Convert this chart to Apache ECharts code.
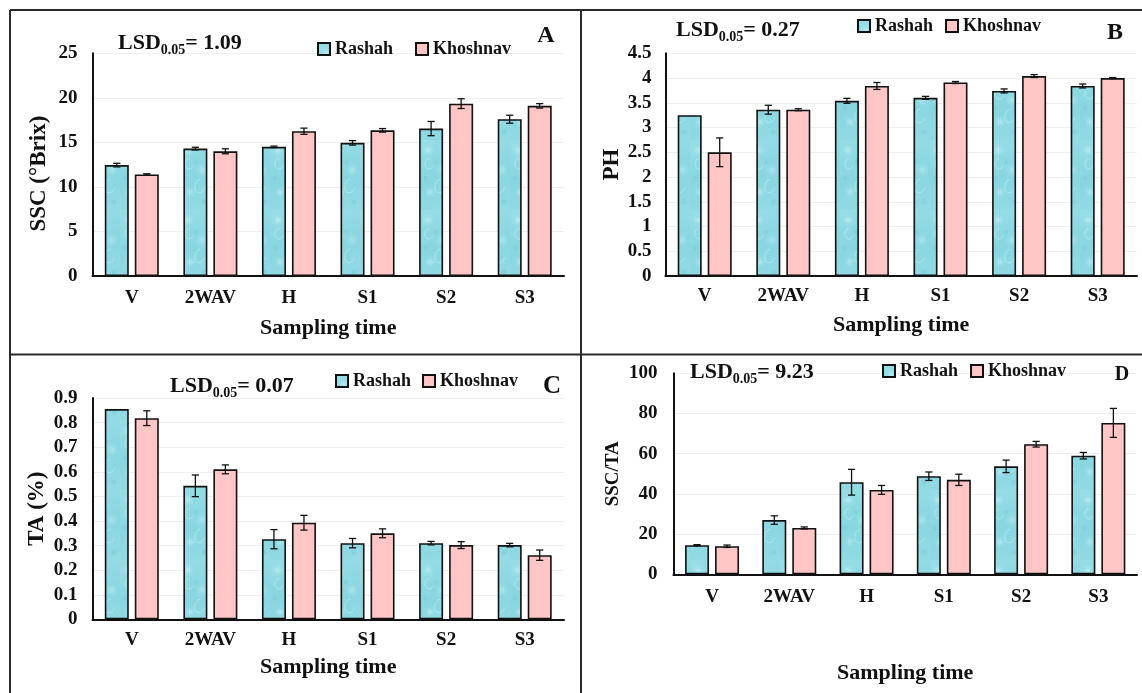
<!DOCTYPE html>
<html>
<head>
<meta charset="utf-8">
<title>Rashah vs Khoshnav</title>
<script src="https://cdn.jsdelivr.net/npm/echarts@6/dist/echarts.min.js"></script>
<style>
    body{margin:0;background:#fff;}
    #chart{width:1142px;height:693px;}
</style>
</head>
<body>
<div id="chart"></div>
<script type="text/javascript">
    // sampling times
    var categories = ['V', '2WAV', 'H', 'S1', 'S2', 'S3'];

    // A - SSC (°Brix)
    var sscRashah = [12.45, 14.3, 14.5, 14.95, 16.55, 17.6];
    var sscRashahErr = [0.2, 0.15, 0.08, 0.25, 0.8, 0.45];
    var sscKhosh = [11.4, 14.0, 16.25, 16.35, 19.35, 19.1];
    var sscKhoshErr = [0.08, 0.28, 0.35, 0.2, 0.55, 0.25];

    // B - PH
    var phRashah = [3.25, 3.36, 3.54, 3.60, 3.74, 3.84];
    var phRashahErr = [0, 0.09, 0.05, 0.03, 0.04, 0.04];
    var phKhosh = [2.50, 3.36, 3.84, 3.91, 4.04, 4.00];
    var phKhoshErr = [0.29, 0.02, 0.07, 0.02, 0.03, 0.01];

    // C - TA (%)
    var taRashah = [0.855, 0.543, 0.326, 0.310, 0.310, 0.302];
    var taRashahErr = [0, 0.044, 0.039, 0.019, 0.007, 0.007];
    var taKhosh = [0.818, 0.610, 0.393, 0.350, 0.302, 0.261];
    var taKhoshErr = [0.03, 0.018, 0.03, 0.018, 0.014, 0.021];

    // D - SSC/TA
    var ratioRashah = [14.5, 27.0, 45.8, 48.8, 53.7, 59.0];
    var ratioRashahErr = [0.3, 2.1, 6.4, 2.1, 3.1, 1.6];
    var ratioKhosh = [14.0, 23.1, 42.0, 47.0, 64.7, 75.3];
    var ratioKhoshErr = [0.6, 0.5, 2.2, 2.8, 1.4, 7.2];

    var lsdValues = ['1.09', '0.27', '0.07', '9.23'];
    var panelLetters = ['A', 'B', 'C', 'D'];
    var yTitles = ['SSC (°Brix)', 'PH', 'TA (%)', 'SSC/TA'];
    var yMax = [25, 4.5, 0.9, 100];
    var yStep = [5, 0.5, 0.1, 20];

    var FONT = '"Times New Roman", "Liberation Serif", serif';

    // soft water-drop texture for the Rashah bars
    function dropPattern() {
        var c = document.createElement('canvas');
        c.width = 30; c.height = 70;
        var g = c.getContext('2d');
        var grd = g.createLinearGradient(0, 0, 30, 70);
        grd.addColorStop(0, '#98dde6');
        grd.addColorStop(0.5, '#88d6e1');
        grd.addColorStop(1, '#94dbe5');
        g.fillStyle = grd;
        g.fillRect(0, 0, 30, 70);
        function spot(x, y, r, col) {
            var rg = g.createRadialGradient(x, y, 0, x, y, r);
            rg.addColorStop(0, col);
            rg.addColorStop(1, 'rgba(140,215,225,0)');
            g.fillStyle = rg;
            g.fillRect(x - r, y - r, r * 2, r * 2);
        }
        spot(8, 10, 8, 'rgba(200,242,246,0.7)');
        spot(22, 30, 9, 'rgba(195,240,245,0.6)');
        spot(10, 52, 7, 'rgba(205,244,248,0.6)');
        spot(24, 62, 5, 'rgba(90,185,200,0.35)');
        spot(16, 22, 4, 'rgba(90,185,200,0.35)');
        spot(5, 38, 4, 'rgba(90,185,200,0.3)');
        g.lineWidth = 0.8;
        g.strokeStyle = 'rgba(235,252,253,0.45)';
        g.beginPath(); g.ellipse(20, 46, 5, 7, 0.3, 0, Math.PI * 1.4); g.stroke();
        g.beginPath(); g.ellipse(9, 24, 4, 5, -0.2, 0.5, Math.PI * 1.6); g.stroke();
        return c;
    }
    var cyanFill = {image: dropPattern(), repeat: 'repeat'};
    var pinkFill = '#ffc6c5';

    var chart = echarts.init(document.getElementById('chart'));

    var grids = [
        {left: 92.5, top: 53.3, width: 471.5, height: 222.7},
        {left: 665.4, top: 53.3, width: 471.6, height: 222.7},
        {left: 92.5, top: 398, width: 471.5, height: 221.4},
        {left: 673.4, top: 373.2, width: 463.6, height: 201.2}
    ];
    var xLabelMargin = [13, 11, 11, 13];
    var xNameGap = [41, 38, 37, 88];
    var yLabelMargin = [15, 14, 15, 16];
    var yNameGap = [42, 41, 44, 51];
    var yNameSize = [23, 23, 23, 19];

    var panels = [
        [sscRashah, sscRashahErr, sscKhosh, sscKhoshErr],
        [phRashah, phRashahErr, phKhosh, phKhoshErr],
        [taRashah, taRashahErr, taKhosh, taKhoshErr],
        [ratioRashah, ratioRashahErr, ratioKhosh, ratioKhoshErr]
    ];

    function errData(vals, errs) {
        var out = [];
        for (var i = 0; i < vals.length; i++) {
            if (errs[i] > 0) out.push([i, vals[i] - errs[i], vals[i] + errs[i]]);
        }
        return out;
    }

    function errItem(offset) {
        return function (params, api) {
            var lo = api.coord([api.value(0), api.value(1)]);
            var hi = api.coord([api.value(0), api.value(2)]);
            var cx = lo[0] + offset, w = 3.6;
            var st = {stroke: '#111', lineWidth: 1.3};
            return {
                type: 'group',
                children: [
                    {type: 'line', shape: {x1: cx, y1: lo[1], x2: cx, y2: hi[1]}, style: st},
                    {type: 'line', shape: {x1: cx - w, y1: lo[1], x2: cx + w, y2: lo[1]}, style: st},
                    {type: 'line', shape: {x1: cx - w, y1: hi[1], x2: cx + w, y2: hi[1]}, style: st}
                ]
            };
        };
    }

    var xAxes = [], yAxes = [], series = [];
    for (var p = 0; p < 4; p++) {
        xAxes.push({
            type: 'category', gridIndex: p, data: categories,
            name: 'Sampling time', nameLocation: 'middle', nameGap: xNameGap[p],
            nameTextStyle: {fontFamily: FONT, fontWeight: 'bold', fontSize: 22, color: '#111'},
            axisLine: {lineStyle: {color: '#111', width: 2}},
            axisTick: {show: false},
            axisLabel: {fontFamily: FONT, fontWeight: 'bold', fontSize: 19, color: '#111', margin: xLabelMargin[p]}
        });
        yAxes.push({
            type: 'value', gridIndex: p, min: 0, max: yMax[p], interval: yStep[p],
            name: yTitles[p], nameLocation: 'middle', nameGap: yNameGap[p], nameRotate: 90,
            nameTextStyle: {fontFamily: FONT, fontWeight: 'bold', fontSize: yNameSize[p], color: '#111',
                padding: p === 0 ? [0, 18, 0, 0] : 0},
            axisLine: {show: true, lineStyle: {color: '#111', width: 2}},
            axisTick: {show: false},
            splitLine: {lineStyle: {color: '#efefef', width: 1}},
            axisLabel: {fontFamily: FONT, fontWeight: 'bold', fontSize: 19, color: '#111', margin: yLabelMargin[p]}
        });
        var d = panels[p];
        series.push({
            name: 'Rashah', type: 'bar', xAxisIndex: p, yAxisIndex: p,
            barWidth: 24, barGap: '25%', data: d[0],
            itemStyle: {color: cyanFill, borderColor: '#111', borderWidth: 1.6}
        });
        series.push({
            name: 'Khoshnav', type: 'bar', xAxisIndex: p, yAxisIndex: p,
            barWidth: 24, barGap: '25%', data: d[2],
            itemStyle: {color: pinkFill, borderColor: '#111', borderWidth: 1.6}
        });
        series.push({
            name: 'Rashah SE', type: 'custom', xAxisIndex: p, yAxisIndex: p, z: 5,
            renderItem: errItem(-15), encode: {x: 0, y: [1, 2]}, data: errData(d[0], d[1])
        });
        series.push({
            name: 'Khoshnav SE', type: 'custom', xAxisIndex: p, yAxisIndex: p, z: 5,
            renderItem: errItem(15), encode: {x: 0, y: [1, 2]}, data: errData(d[2], d[3])
        });
    }

    // legends, one per panel
    var legendPos = [
        {left: 317, top: 40, itemGap: 22},
        {left: 857, top: 17, itemGap: 12},
        {left: 335, top: 372, itemGap: 11},
        {left: 882, top: 362, itemGap: 12}
    ];
    var legends = legendPos.map(function (lp) {
        return {
            data: ['Rashah', 'Khoshnav'], left: lp.left, top: lp.top, itemGap: lp.itemGap,
            padding: 0, icon: 'rect', itemWidth: 12, itemHeight: 12,
            textStyle: {fontFamily: FONT, fontWeight: 'bold', fontSize: 18, color: '#111'}
        };
    });

    // LSD labels, panel letters and frame lines
    var lsdPos = [[118, 32], [676, 19], [170, 375], [690, 361]];
    var letterPos = [[546, 36, 24], [1115, 33, 24], [552, 387, 25], [1122, 375, 20]];
    var graphics = [];
    for (var k = 0; k < 4; k++) {
        graphics.push({
            type: 'text', left: lsdPos[k][0], top: lsdPos[k][1], z: 10,
            style: {
                text: '{m|LSD}{s|0.05}{m|= ' + lsdValues[k] + '}',
                rich: {
                    m: {fontFamily: FONT, fontWeight: 'bold', fontSize: 22, lineHeight: 28, fill: '#111'},
                    s: {fontFamily: FONT, fontWeight: 'bold', fontSize: 14, lineHeight: 14, verticalAlign: 'bottom', fill: '#111'}
                }
            }
        });
        graphics.push({
            type: 'text', x: letterPos[k][0], y: letterPos[k][1], z: 10,
            style: {text: panelLetters[k], fontFamily: FONT, fontWeight: 'bold', fontSize: letterPos[k][2],
                fill: '#111', align: 'center', verticalAlign: 'middle'}
        });
    }
    var frame = {stroke: '#2a2a2a', lineWidth: 2};
    graphics.push({type: 'line', shape: {x1: 10, y1: 10, x2: 1142, y2: 10}, style: frame});
    graphics.push({type: 'line', shape: {x1: 10, y1: 354.5, x2: 1142, y2: 354.5}, style: frame});
    graphics.push({type: 'line', shape: {x1: 10, y1: 10, x2: 10, y2: 693}, style: frame});
    graphics.push({type: 'line', shape: {x1: 581, y1: 10, x2: 581, y2: 693}, style: frame});

    var option = {
        animation: false,
        grid: grids,
        xAxis: xAxes,
        yAxis: yAxes,
        legend: legends,
        graphic: graphics,
        series: series
    };
    chart.setOption(option);
</script>
</body>
</html>
